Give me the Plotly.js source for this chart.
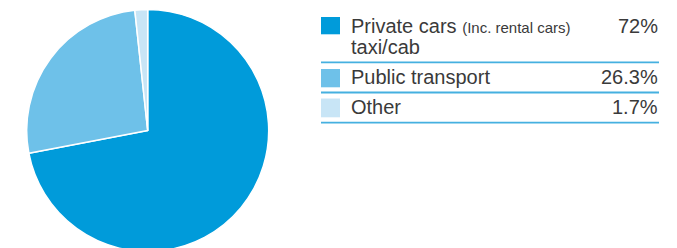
<!DOCTYPE html>
<html>
<head>
<meta charset="utf-8">
<script src="https://cdn.plot.ly/plotly-3.0.1.min.js"></script>
<style>
html,body{margin:0;padding:0;overflow:hidden;background:#fff;}
#chart{width:677px;height:252px;}
</style>
</head>
<body>
<div id="chart"></div>
<script>
// Data
var categories = ["Private cars", "Public transport", "Other"];
var subLabels = ["(Inc. rental cars)", "", ""];
var secondLines = ["taxi/cab", "", ""];
var values = [72, 26.3, 1.7];
var valueLabels = ["72%", "26.3%", "1.7%"];
var colors = ["#009BDA", "#6EC1E9", "#C8E5F6"];

var W = 677, H = 252;
function px(x){ return x / W; }
function py(y){ return 1 - y / H; }

var trace = {
  type: "pie",
  labels: categories,
  values: values,
  sort: false,
  direction: "clockwise",
  rotation: 0,
  textinfo: "none",
  hoverinfo: "label+percent",
  marker: { colors: colors, line: { color: "#ffffff", width: 1.5 } },
  domain: { x: [px(26.7), px(268.7)], y: [0, py(9)] },
  showlegend: false
};

var font = { family: "Liberation Sans, Arial, Helvetica, sans-serif", color: "#3a3a3a", size: 20 };
var shapes = [], annotations = [];
var rows = [
  { sqTop: 17, sqBot: 34.3, base: 34, line: 62.3 },
  { sqTop: 69, sqBot: 87.3, base: 84.5, line: 92.5 },
  { sqTop: 98.5, sqBot: 117.3, base: 114.5, line: 122.7 }
];
var desc = 0.212;
for (var i = 0; i < categories.length; i++) {
  var r = rows[i];
  shapes.push({ type: "rect", xref: "paper", yref: "paper",
    x0: px(321), x1: px(340), y0: py(r.sqBot), y1: py(r.sqTop),
    fillcolor: colors[i], line: { width: 0 } });
  shapes.push({ type: "line", xref: "paper", yref: "paper",
    x0: px(321), x1: px(659), y0: py(r.line), y1: py(r.line),
    line: { color: "#45B0E0", width: 1.8 } });
  var t = categories[i];
  if (subLabels[i]) t += " <span style='font-size:15px'>" + subLabels[i] + "</span>";
  annotations.push({ xref: "paper", yref: "paper", x: px(349.5), y: py(r.base + desc * 20),
    xanchor: "left", yanchor: "bottom", showarrow: false, borderpad: 0, text: t, font: font, align: "left" });
  if (secondLines[i]) {
    annotations.push({ xref: "paper", yref: "paper", x: px(349.5), y: py(r.base + 21 + desc * 20),
      xanchor: "left", yanchor: "bottom", showarrow: false, borderpad: 0, text: secondLines[i], font: font, align: "left" });
  }
  annotations.push({ xref: "paper", yref: "paper", x: px(659), y: py(r.base + desc * 20),
    xanchor: "right", yanchor: "bottom", showarrow: false, borderpad: 0, text: valueLabels[i], font: font, align: "right" });
}

var layout = {
  width: W, height: H,
  margin: { l: 0, r: 0, t: 0, b: 0 },
  paper_bgcolor: "#ffffff",
  shapes: shapes,
  annotations: annotations,
  showlegend: false
};
Plotly.newPlot("chart", [trace], layout, { displayModeBar: false, staticPlot: true });
</script>
</body>
</html>
